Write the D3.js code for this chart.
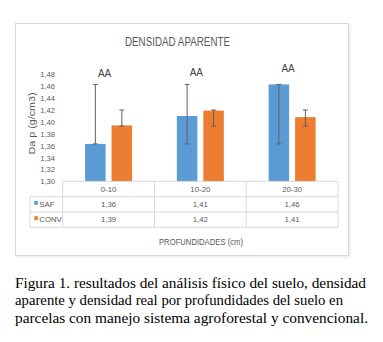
<!DOCTYPE html>
<html><head><meta charset="utf-8">
<script src="https://cdn.jsdelivr.net/npm/d3@7/dist/d3.min.js"></script>
<style>body{margin:0;background:#fff}svg{display:block}</style>
</head><body><svg id="c" width="383" height="342"></svg>
<script>
const categories = ["0-10", "10-20", "20-30"];
const seriesNames = ["SAF", "CONV"];
const safValues = [1.363, 1.41, 1.463];
const convValues = [1.394, 1.419, 1.408];
const safLabels = ["1,36", "1,41", "1,46"];
const convLabels = ["1,39", "1,42", "1,41"];
const safErrLow = [1.363, 1.363, 1.363];
const safErrHigh = [1.463, 1.463, 1.463];
const convErrLow = [1.393, 1.393, 1.393];
const convErrHigh = [1.42, 1.42, 1.42];
const sigLabels = ["AA", "AA", "AA"];
const sigAt = [1.482, 1.484, 1.491];
const yTicks = [1.30, 1.32, 1.34, 1.36, 1.38, 1.40, 1.42, 1.44, 1.46, 1.48];
const colors = ["#5B9BD5", "#ED7D31"];

const svg = d3.select("#c");
const font = "'Liberation Sans', Arial, sans-serif";
const grey = "#595959";

// chart frame
svg.append("rect").attr("x", 15.5).attr("y", 23.5).attr("width", 333).attr("height", 232)
  .attr("fill", "#fff").attr("stroke", "#d9d9d9").attr("stroke-width", 1);
svg.append("line").attr("x1", 350).attr("x2", 350).attr("y1", 25).attr("y2", 257).attr("stroke", "#ececec").attr("stroke-width", 1.5);
svg.append("line").attr("x1", 17).attr("x2", 350).attr("y1", 257).attr("y2", 257).attr("stroke", "#ececec").attr("stroke-width", 1.5);

// title
svg.append("text").attr("x", 177.5).attr("y", 46).attr("text-anchor", "middle")
  .attr("font-family", font).attr("font-size", 12.5).attr("fill", grey)
  .attr("textLength", 105).attr("lengthAdjust", "spacingAndGlyphs").text("DENSIDAD APARENTE");

const x = d3.scaleBand().domain(categories).range([62.7, 338]).padding(0);
const xs = d3.scaleBand().domain(seriesNames).range([0, x.bandwidth()]).paddingInner(0.226).paddingOuter(0.845);
const y = d3.scaleLinear().domain([1.30, 1.48]).range([181.4, 74.3]);

// y axis
const yAxis = d3.axisLeft(y).tickValues(yTicks).tickSize(0).tickPadding(0)
  .tickFormat(d => d3.format(".2f")(d).replace(".", ","));
const ya = svg.append("g").attr("transform", "translate(55,0)").call(yAxis);
ya.select(".domain").remove();
ya.selectAll("text").attr("font-family", font).attr("font-size", 7.6).attr("fill", grey);

svg.append("text").attr("transform", "translate(35,123.5) rotate(-90)").attr("text-anchor", "middle")
  .attr("font-family", font).attr("font-size", 8.8).attr("fill", grey)
  .attr("textLength", 62).attr("lengthAdjust", "spacingAndGlyphs").text("Da p (g/cm3)");

const series = [
  {name: seriesNames[0], values: safValues, lo: safErrLow, hi: safErrHigh, labels: safLabels, color: colors[0]},
  {name: seriesNames[1], values: convValues, lo: convErrLow, hi: convErrHigh, labels: convLabels, color: colors[1]}
];

// bars
series.forEach(s => {
  svg.append("g").selectAll("rect").data(categories).join("rect")
    .attr("x", (c) => x(c) + xs(s.name))
    .attr("width", xs.bandwidth())
    .attr("y", (c, i) => y(s.values[i]))
    .attr("height", (c, i) => y(1.30) - y(s.values[i]))
    .attr("fill", s.color);
});

// error bars
series.forEach(s => {
  const g = svg.append("g").attr("stroke", "#606060").attr("stroke-width", 1).attr("fill", "none");
  categories.forEach((c, i) => {
    const cx = x(c) + xs(s.name) + xs.bandwidth() / 2;
    g.append("line").attr("x1", cx).attr("x2", cx).attr("y1", y(s.lo[i])).attr("y2", y(s.hi[i]));
    g.append("line").attr("x1", cx - 2.5).attr("x2", cx + 2.5).attr("y1", y(s.lo[i])).attr("y2", y(s.lo[i]));
    g.append("line").attr("x1", cx - 2.5).attr("x2", cx + 2.5).attr("y1", y(s.hi[i])).attr("y2", y(s.hi[i]));
  });
});

// significance labels
svg.append("g").selectAll("text").data(categories).join("text")
  .attr("x", c => x(c) + x.bandwidth() / 2 - 4)
  .attr("y", (c, i) => y(sigAt[i]) + 3.8)
  .attr("text-anchor", "middle").attr("font-family", font).attr("font-size", 10).attr("fill", "#404040")
  .text((c, i) => sigLabels[i]);

// data table
const rowTop = 181.4, rowH = 15.3, legLeft = 30;
const tg = svg.append("g").attr("stroke", "#d9d9d9").attr("stroke-width", 1);
const x0 = x.range()[0], x1 = x.range()[1];
tg.append("line").attr("x1", x0).attr("x2", x1).attr("y1", rowTop).attr("y2", rowTop);
[1, 2, 3].forEach(k => {
  tg.append("line").attr("x1", legLeft).attr("x2", x1).attr("y1", rowTop + k * rowH).attr("y2", rowTop + k * rowH);
});
tg.append("line").attr("x1", legLeft).attr("x2", legLeft).attr("y1", rowTop + rowH).attr("y2", rowTop + 3 * rowH);
categories.forEach(c => {
  tg.append("line").attr("x1", x(c)).attr("x2", x(c)).attr("y1", rowTop).attr("y2", rowTop + 3 * rowH);
});
tg.append("line").attr("x1", x1).attr("x2", x1).attr("y1", rowTop).attr("y2", rowTop + 3 * rowH);

const tt = svg.append("g").attr("font-family", font).attr("font-size", 7.8).attr("fill", grey).attr("text-anchor", "middle");
tt.selectAll("text.cat").data(categories).join("text").attr("class", "cat")
  .attr("x", c => x(c) + x.bandwidth() / 2).attr("y", rowTop + rowH / 2 + 2.8).text(c => c);
series.forEach((s, k) => {
  const ry = rowTop + (k + 1) * rowH + rowH / 2 + 2.8;
  tt.append("g").selectAll("text").data(categories).join("text")
    .attr("x", c => x(c) + x.bandwidth() / 2).attr("y", ry).text((c, i) => s.labels[i]);
  svg.append("rect").attr("x", 34.3).attr("y", ry - 6.3).attr("width", 3.6).attr("height", 4).attr("fill", s.color);
  svg.append("text").attr("x", 39.3).attr("y", ry).attr("font-family", font).attr("font-size", 7.8)
    .attr("fill", grey).text(s.name);
});

// x title
svg.append("text").attr("x", 201).attr("y", 244.8).attr("text-anchor", "middle")
  .attr("font-family", font).attr("font-size", 8.8).attr("fill", grey)
  .attr("textLength", 84).attr("lengthAdjust", "spacingAndGlyphs").text("PROFUNDIDADES (cm)");

// caption
const caption = [
  "Figura 1. resultados del análisis físico del suelo, densidad",
  "aparente y densidad real por profundidades del suelo en",
  "parcelas con manejo sistema agroforestal y convencional."
];
const captionWidths = [351, 328, 353];
svg.append("g").selectAll("text").data(caption).join("text")
  .attr("x", 15).attr("y", (d, i) => 288 + i * 17.4)
  .attr("font-family", "'Liberation Serif', 'Times New Roman', serif").attr("font-size", 15).attr("fill", "#000")
  .attr("textLength", (d, i) => captionWidths[i]).attr("lengthAdjust", "spacingAndGlyphs")
  .text(d => d);
</script></body></html>
